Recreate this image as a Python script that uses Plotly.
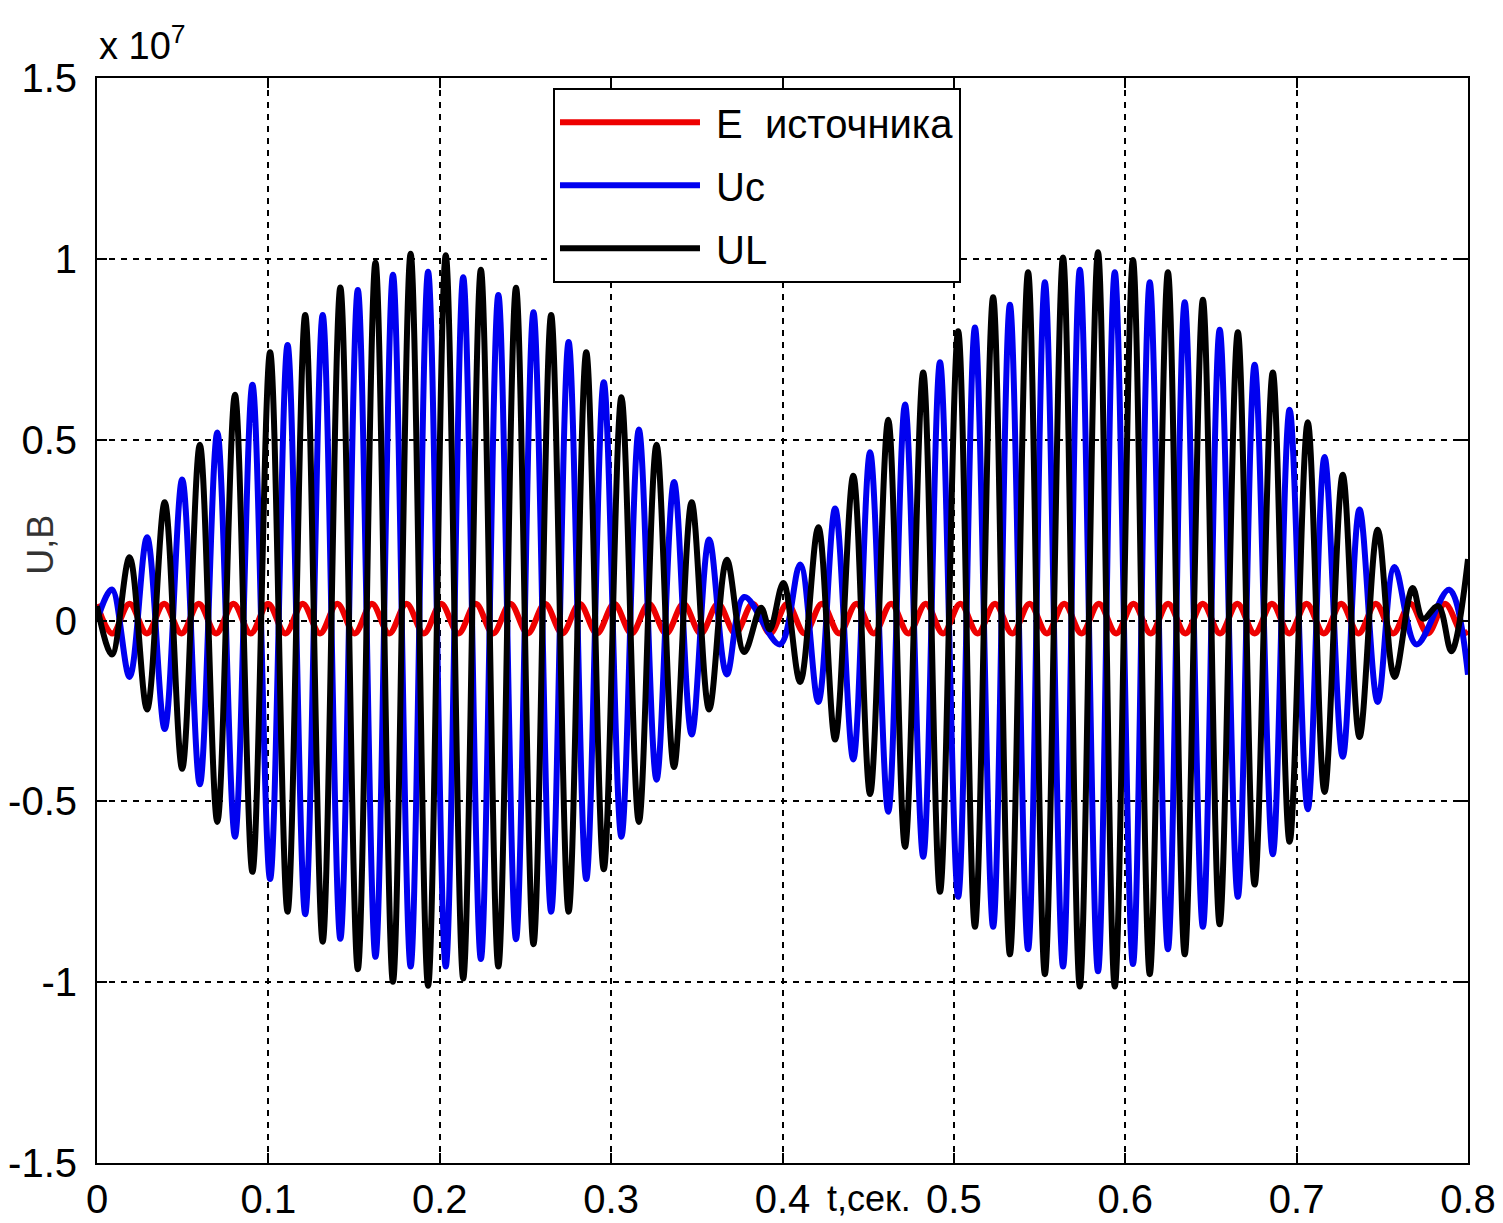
import plotly.graph_objects as go

# ---- data (values in units of 1e7 V), extrema ----
e_t = [0.0000,
       0.0089, 0.0190, 0.0291, 0.0392, 0.0493, 0.0594, 0.0695, 0.0796, 0.0897, 0.0998,
       0.1099, 0.1200, 0.1301, 0.1402, 0.1503, 0.1604, 0.1705, 0.1806, 0.1907, 0.2008,
       0.2109, 0.2210, 0.2311, 0.2412, 0.2513, 0.2614, 0.2715, 0.2816, 0.2917, 0.3018,
       0.3119, 0.3220, 0.3321, 0.3422, 0.3523, 0.3624, 0.3725, 0.3826, 0.3927, 0.4028,
       0.4129, 0.4230, 0.4331, 0.4432, 0.4533, 0.4634, 0.4735, 0.4836, 0.4937, 0.5038,
       0.5139, 0.5240, 0.5341, 0.5442, 0.5543, 0.5644, 0.5745, 0.5846, 0.5947, 0.6048,
       0.6149, 0.6250, 0.6351, 0.6452, 0.6553, 0.6654, 0.6755, 0.6856, 0.6957, 0.7058,
       0.7159, 0.7260, 0.7361, 0.7462, 0.7563, 0.7664, 0.7765, 0.7866, 0.7967, 0.8000]
e_v = [0.045,
       -0.036, 0.046, -0.036, 0.046, -0.036, 0.046, -0.036, 0.046, -0.036, 0.046,
       -0.036, 0.046, -0.036, 0.046, -0.036, 0.046, -0.036, 0.046, -0.036, 0.046,
       -0.036, 0.046, -0.036, 0.046, -0.036, 0.046, -0.036, 0.046, -0.036, 0.046,
       -0.036, 0.046, -0.036, 0.046, -0.036, 0.046, -0.036, 0.046, -0.036, 0.046,
       -0.036, 0.046, -0.036, 0.046, -0.036, 0.046, -0.036, 0.046, -0.036, 0.046,
       -0.036, 0.046, -0.036, 0.046, -0.036, 0.046, -0.036, 0.046, -0.036, 0.046,
       -0.036, 0.046, -0.036, 0.046, -0.036, 0.046, -0.036, 0.046, -0.036, 0.046,
       -0.036, 0.046, -0.036, 0.046, -0.036, 0.046, -0.036, 0.046, -0.036, -0.030]

uc_t = [0.0000,
        0.0087, 0.0190, 0.0292, 0.0395, 0.0497, 0.0600, 0.0702, 0.0805, 0.0907, 0.1010,
        0.1112, 0.1215, 0.1317, 0.1420, 0.1522, 0.1625, 0.1727, 0.1830, 0.1932, 0.2035,
        0.2137, 0.2240, 0.2342, 0.2445, 0.2547, 0.2650, 0.2752, 0.2855, 0.2957, 0.3060,
        0.3162, 0.3265, 0.3367, 0.3470, 0.3572, 0.3675, 0.3777,
        0.3985, 0.4103, 0.4209, 0.4307, 0.4413, 0.4511, 0.4617, 0.4715, 0.4821, 0.4919,
        0.5025, 0.5123, 0.5229, 0.5327, 0.5433, 0.5531, 0.5637, 0.5735, 0.5841, 0.5939,
        0.6045, 0.6143, 0.6249, 0.6347, 0.6453, 0.6551, 0.6657, 0.6755, 0.6861, 0.6959,
        0.7065, 0.7163, 0.7269, 0.7367, 0.7473, 0.7571, 0.7699,
        0.7890, 0.8000]
uc_v = [0.000,
        0.086, -0.156, 0.230, -0.300, 0.390, -0.453, 0.520, -0.598, 0.652, -0.715,
        0.762, -0.812, 0.845, -0.880, 0.914, -0.930, 0.956, -0.957, 0.964, -0.957,
        0.949, -0.936, 0.900, -0.881, 0.852, -0.805, 0.770, -0.715, 0.659, -0.598,
        0.528, -0.440, 0.383, -0.315, 0.224, -0.149, 0.065,
        -0.066, 0.155, -0.225, 0.310, -0.384, 0.465, -0.529, 0.597, -0.653, 0.714,
        -0.764, 0.810, -0.847, 0.873, -0.909, 0.935, -0.957, 0.970, -0.970, 0.963,
        -0.950, 0.935, -0.909, 0.880, -0.847, 0.804, -0.764, 0.707, -0.646, 0.583,
        -0.522, 0.452, -0.377, 0.307, -0.225, 0.148, -0.066,
        0.085, -0.150]

ul_t = [0.0000,
        0.0087, 0.0190, 0.0292, 0.0395, 0.0497, 0.0600, 0.0702, 0.0805, 0.0907, 0.1010,
        0.1112, 0.1215, 0.1317, 0.1420, 0.1522, 0.1625, 0.1727, 0.1830, 0.1932, 0.2035,
        0.2137, 0.2240, 0.2342, 0.2445, 0.2547, 0.2650, 0.2752, 0.2855, 0.2957, 0.3060,
        0.3162, 0.3265, 0.3367, 0.3470, 0.3572, 0.3675, 0.3777, 0.3875, 0.3926,
        0.4005, 0.4103, 0.4209, 0.4307, 0.4413, 0.4511, 0.4617, 0.4715, 0.4821, 0.4919,
        0.5025, 0.5123, 0.5229, 0.5327, 0.5433, 0.5531, 0.5637, 0.5735, 0.5841, 0.5939,
        0.6045, 0.6143, 0.6249, 0.6347, 0.6453, 0.6551, 0.6657, 0.6755, 0.6861, 0.6959,
        0.7065, 0.7163, 0.7269, 0.7367, 0.7473, 0.7571, 0.7677,
        0.7738, 0.7826, 0.7903, 0.8000]
ul_v = [0.040,
        -0.094, 0.175, -0.246, 0.327, -0.410, 0.486, -0.557, 0.624, -0.695, 0.742,
        -0.805, 0.845, -0.888, 0.921, -0.964, 0.990, -0.999, 1.014, -1.010, 1.010,
        -0.990, 0.970, -0.957, 0.920, -0.895, 0.845, -0.805, 0.742, -0.688, 0.617,
        -0.557, 0.486, -0.405, 0.327, -0.246, 0.168, -0.087, 0.035, -0.025,
        0.104, -0.170, 0.258, -0.329, 0.400, -0.480, 0.555, -0.626, 0.686, -0.750,
        0.800, -0.847, 0.894, -0.923, 0.963, -0.978, 1.004, -1.012, 1.018, -1.012,
        0.997, -0.978, 0.963, -0.923, 0.887, -0.840, 0.797, -0.730, 0.686, -0.612,
        0.548, -0.474, 0.403, -0.322, 0.251, -0.156, 0.090,
        0.005, 0.040, -0.085, 0.170]

x_ticks = [0, 0.1, 0.2, 0.3, 0.4, 0.5, 0.6, 0.7, 0.8]
x_labels = ["0", "0.1", "0.2", "0.3", "0.4", "0.5", "0.6", "0.7", "0.8"]
y_ticks = [-1.5, -1, -0.5, 0, 0.5, 1, 1.5]
y_labels = ["-1.5", "-1", "-0.5", "0", "0.5", "1", "1.5"]

series_names = ["\u00a0E\u00a0\u00a0источника", "\u00a0Uc", "\u00a0UL"]
series_colors = ["#ee0000", "#0000f0", "#000000"]

FONT = "Liberation Sans, Arial, Helvetica, sans-serif"

fig = go.Figure()
for i, (xs, ys) in enumerate([(e_t, e_v), (uc_t, uc_v), (ul_t, ul_v)]):
    fig.add_trace(go.Scatter(x=xs, y=ys, mode="lines", name=series_names[i],
                             legendgroup="g%d" % i,
                             line=dict(color=series_colors[i], width=6, shape="spline")))

axis_common = dict(
    showline=True, linecolor="black", linewidth=2, mirror="ticks",
    ticks="inside", ticklen=10, tickwidth=2, tickcolor="black",
    showgrid=True, gridcolor="black", gridwidth=2, griddash="6px,6px",
    zeroline=False, automargin=False,
    tickfont=dict(family=FONT, size=40, color="black"),
)

fig.update_xaxes(range=[0, 0.8], tickvals=x_ticks, ticktext=x_labels,
                 ticklabelstandoff=0, **axis_common)
fig.update_yaxes(range=[-1.5, 1.5], tickvals=y_ticks, ticktext=y_labels,
                 ticklabelstandoff=10, **axis_common)

fig.update_layout(
    width=1503, height=1223,
    margin=dict(l=97, r=35, t=78, b=60),
    plot_bgcolor="white", paper_bgcolor="white",
    font=dict(family=FONT, size=40, color="black"),
    showlegend=True,
    legend=dict(x=0.3326, y=0.991, xanchor="left", yanchor="top",
                bgcolor="white", bordercolor="black", borderwidth=2,
                font=dict(family=FONT, size=40, color="black"),
                itemwidth=140, tracegroupgap=8),
    annotations=[
        dict(text="x 10<sup>7</sup>", x=0, y=1.008, xref="paper", yref="paper",
             xanchor="left", yanchor="bottom", showarrow=False,
             font=dict(family=FONT, size=38, color="black")),
        dict(text="U,B", x=-0.041, y=0.5696, xref="paper", yref="paper",
             xanchor="center", yanchor="middle", showarrow=False, textangle=-90,
             font=dict(family=FONT, size=36, color="#333333")),
        dict(text="t,сек.", x=0.563, y=-0.033, xref="paper", yref="paper",
             xanchor="center", yanchor="middle", showarrow=False,
             font=dict(family=FONT, size=36, color="black")),
    ],
)

fig.write_html("out.html")
